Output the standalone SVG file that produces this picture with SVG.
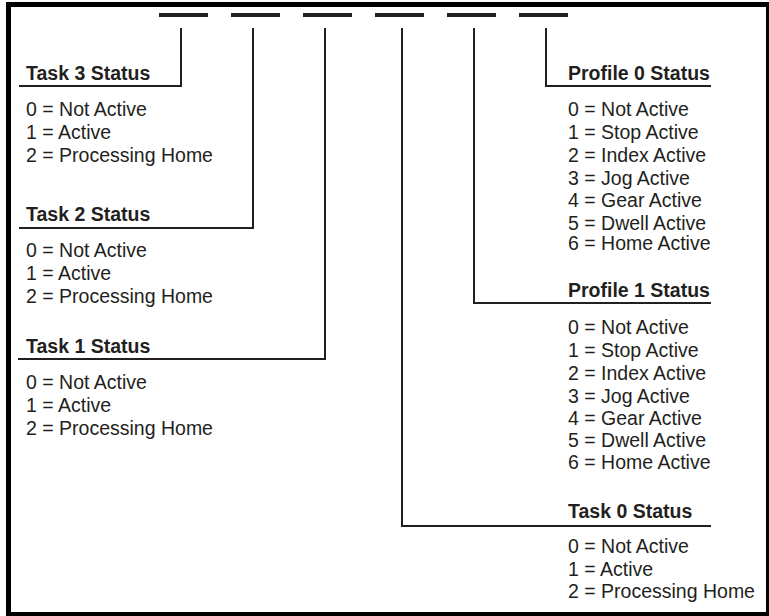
<svg xmlns="http://www.w3.org/2000/svg" width="769" height="616" viewBox="0 0 769 616">
<style>
  .t{font-family:"Liberation Sans",Arial,sans-serif;font-size:19.5px;fill:#231f20}
  .h{font-weight:bold}
  .ln{stroke:#231f20;stroke-width:2;fill:none}
  .bit{fill:#231f20}
</style>
<rect x="0" y="0" width="769" height="616" fill="#ffffff"/>
<rect x="8.5" y="4.5" width="760" height="610" fill="none" stroke="#000000" stroke-width="5"/>
<g id="bits">
  <rect class="bit" x="159" y="13" width="49" height="4"/>
  <rect class="bit" x="231" y="13" width="49" height="4"/>
  <rect class="bit" x="303" y="13" width="49" height="4"/>
  <rect class="bit" x="375" y="13" width="49" height="4"/>
  <rect class="bit" x="447" y="13" width="49" height="4"/>
  <rect class="bit" x="519" y="13" width="49" height="4"/>
</g>
<g id="connectors">
  <polyline class="ln" points="181,28 181,86 19,86"/>
  <polyline class="ln" points="253,28 253,228 19,228"/>
  <polyline class="ln" points="325,28 325,359 18,359"/>
  <polyline class="ln" points="402,28 402,526 711,526"/>
  <polyline class="ln" points="474,28 474,303 711,303"/>
  <polyline class="ln" points="546,28 546,86 711,86"/>
</g>
<g id="task3">
  <text class="t h" x="26" y="80">Task 3 Status</text>
  <text class="t" x="26" y="116">0 = Not Active</text>
  <text class="t" x="26" y="139">1 = Active</text>
  <text class="t" x="26" y="162">2 = Processing Home</text>
</g>
<g id="task2">
  <text class="t h" x="26" y="221">Task 2 Status</text>
  <text class="t" x="26" y="257">0 = Not Active</text>
  <text class="t" x="26" y="280">1 = Active</text>
  <text class="t" x="26" y="303">2 = Processing Home</text>
</g>
<g id="task1">
  <text class="t h" x="26" y="353">Task 1 Status</text>
  <text class="t" x="26" y="389">0 = Not Active</text>
  <text class="t" x="26" y="412">1 = Active</text>
  <text class="t" x="26" y="435">2 = Processing Home</text>
</g>
<g id="profile0">
  <text class="t h" x="568" y="80">Profile 0 Status</text>
  <text class="t" x="568" y="116">0 = Not Active</text>
  <text class="t" x="568" y="139">1 = Stop Active</text>
  <text class="t" x="568" y="162">2 = Index Active</text>
  <text class="t" x="568" y="185">3 = Jog Active</text>
  <text class="t" x="568" y="207">4 = Gear Active</text>
  <text class="t" x="568" y="230">5 = Dwell Active</text>
  <text class="t" x="568" y="250">6 = Home Active</text>
</g>
<g id="profile1">
  <text class="t h" x="568" y="297">Profile 1 Status</text>
  <text class="t" x="568" y="334">0 = Not Active</text>
  <text class="t" x="568" y="357">1 = Stop Active</text>
  <text class="t" x="568" y="380">2 = Index Active</text>
  <text class="t" x="568" y="403">3 = Jog Active</text>
  <text class="t" x="568" y="425">4 = Gear Active</text>
  <text class="t" x="568" y="447">5 = Dwell Active</text>
  <text class="t" x="568" y="469">6 = Home Active</text>
</g>
<g id="task0">
  <text class="t h" x="568" y="518">Task 0 Status</text>
  <text class="t" x="568" y="553">0 = Not Active</text>
  <text class="t" x="568" y="576">1 = Active</text>
  <text class="t" x="568" y="598">2 = Processing Home</text>
</g>
</svg>
